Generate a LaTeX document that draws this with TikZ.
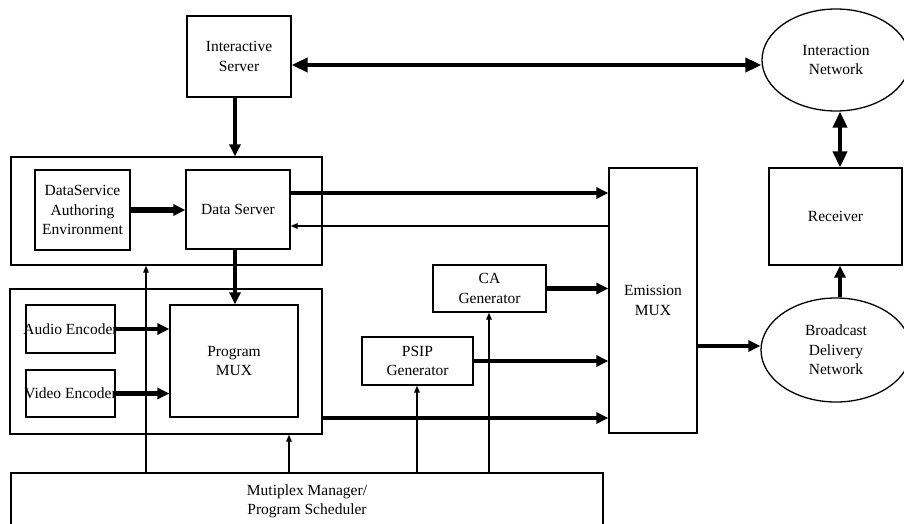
\documentclass[tikz,border=0pt]{standalone}
\usepackage{fontspec}
\setmainfont{Liberation Serif}
\usetikzlibrary{arrows.meta,shapes.geometric,calc}

\newcommand{\lblfont}{\fontsize{15.5pt}{19.5pt}\selectfont}

\begin{document}
\begin{tikzpicture}[x=1pt,y=-1pt,
  box/.style={draw, line width=1.3pt, inner sep=0pt, align=center, font=\lblfont},
  net/.style={draw, ellipse, line width=1.3pt, inner sep=0pt, align=center, font=\lblfont},
  lbl/.style={inner sep=0pt, align=center, font=\lblfont},
  flow/.style={line width=4.5pt, -{Triangle[length=12pt,width=11pt]}},
  bigflow/.style={line width=4.5pt, {Triangle[length=16pt,width=14pt]}-{Triangle[length=16pt,width=14pt]}},
  ctrl/.style={line width=1.3pt, -{Triangle[length=7pt,width=5.5pt]}}]

\useasboundingbox (0,0) rectangle (904,524);
\clip (0,0) rectangle (904,524);

% interactive path
\node[box, minimum width=104, minimum height=81] (isrv) at (239,56.5) {Interactive\\Server};
\node[net, minimum width=148, minimum height=102] (inet) at (836,60) {Interaction\\Network};

% data service group
\node[box, minimum width=311, minimum height=108] (grp1) at (166.5,211) {};
\node[box, minimum width=95, minimum height=80] (dsae) at (82.5,210) {DataService\\Authoring\\Environment};
\node[box, minimum width=104, minimum height=79] (dsrv) at (238,209.5) {Data Server};

% program group
\node[box, minimum width=312, minimum height=145] (grp2) at (166,361.5) {};
\node[box, minimum width=89, minimum height=48, label={[lbl]center:Audio Encoder}] (aenc) at (70.5,329) {};
\node[box, minimum width=89, minimum height=47, label={[lbl]center:Video Encoder}] (venc) at (70.5,393.5) {};
\node[box, minimum width=128, minimum height=112] (pmux) at (234,361) {Program\\MUX};

% table generators
\node[box, minimum width=113, minimum height=47] (ca) at (489.5,288.5) {CA\\Generator};
\node[box, minimum width=111, minimum height=48] (psip) at (417.5,361) {PSIP\\Generator};

% emission and delivery
\node[box, minimum width=88, minimum height=265] (emux) at (653,300.5) {Emission\\MUX};
\node[box, minimum width=133, minimum height=97] (recv) at (835.5,216.5) {Receiver};
\node[net, minimum width=150, minimum height=104] (bnet) at (836,350) {Broadcast\\Delivery\\Network};

% scheduler (runs past the lower edge)
\node[box, minimum width=592, minimum height=57] (sched) at (307,501.5) {Mutiplex Manager/\\Program Scheduler};

% connection points
\coordinate (a1) at ([yshift=-8.5pt]isrv.east);
\coordinate (a2) at ([xshift=-4pt]isrv.south);
\coordinate (a4) at ([xshift=-3pt]dsrv.south);
\coordinate (a5) at ([yshift=16.5pt]dsrv.east);
\coordinate (a6) at ([yshift=-16.5pt]dsrv.east);
\coordinate (a11) at ([yshift=-56.5pt]grp2.east);
\coordinate (a12) at ([yshift=-45.5pt]emux.east);
\coordinate (a13) at ([xshift=4pt]bnet.north);
\coordinate (a14) at ([xshift=4pt]inet.south);
\coordinate (s1) at ([xshift=-161pt]sched.north);
\coordinate (s2) at ([xshift=-18pt]sched.north);
\coordinate (s3) at ([xshift=110pt]sched.north);
\coordinate (s4) at ([xshift=182pt]sched.north);

% thick data flows
\draw[bigflow] (a1) -- (a1 -| inet.west);
\draw[bigflow] (a14) -- (a14 |- recv.north);
\draw[flow] (a2) -- (a2 |- grp1.north);
\draw[flow, line width=5.5pt] (dsae.east) -- (dsae.east -| dsrv.west);
\draw[flow] (a4) -- (a4 |- pmux.north);
\draw[flow] (a5) -- (a5 -| emux.west);
\draw[ctrl] (a6 -| emux.west) -- (a6);
\draw[flow] (aenc.east) -- (aenc.east -| pmux.west);
\draw[flow] (venc.east) -- (venc.east -| pmux.west);
\draw[flow] (ca.east) -- (ca.east -| emux.west);
\draw[flow] (psip.east) -- (psip.east -| emux.west);
\draw[flow] (a11) -- (a11 -| emux.west);
\draw[flow] (a12) -- (a12 -| bnet.west);
\draw[flow] (a13) -- (a13 |- recv.south);

% control lines from the scheduler
\draw[ctrl] (s1) -- (s1 |- grp1.south);
\draw[ctrl] (s2) -- (s2 |- grp2.south);
\draw[ctrl] (s3) -- (s3 |- psip.south);
\draw[ctrl] (s4) -- (s4 |- ca.south);

\end{tikzpicture}
\end{document}
